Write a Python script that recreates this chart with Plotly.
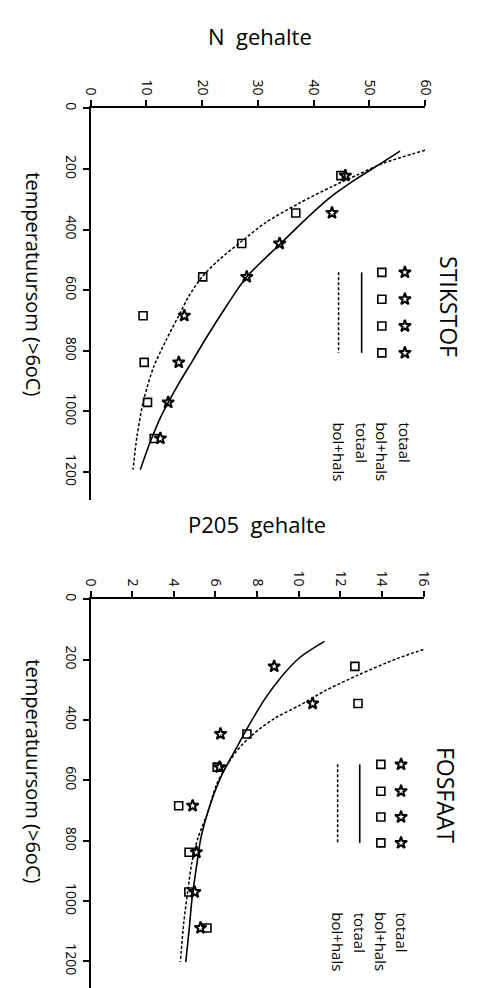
import plotly.graph_objects as go

W, H = 486, 988
FONT = "Open Sans, Roboto, sans-serif"

# Temperature sum (degree-days above 6 oC) at each sampling
temp = [222, 345, 446, 556, 684, 838, 970, 1089]

# Nitrogen content
n_totaal = [45.7, 43.3, 33.9, 28.0, 16.8, 15.8, 13.9, 12.5]
n_bolhals = [44.9, 36.8, 27.1, 20.1, 9.4, 9.6, 10.2, 11.4]

# Fitted nitrogen curves
n_fit_temp_totaal = [141, 187, 236, 296, 362, 449, 558, 657, 755, 832, 908, 1017, 1105, 1192]
n_fit_totaal = [55.5, 51.6, 47.4, 42.8, 38.8, 33.9, 27.9, 24.2, 20.8, 18.3, 15.8, 12.6, 10.6, 8.9]
n_fit_temp_bolhals = [138, 181, 220, 258, 313, 378, 440, 500, 558, 620, 684, 766, 853, 963, 1083, 1192]
n_fit_bolhals = [60.0, 52.5, 47.8, 43.3, 37.4, 31.3, 27.0, 23.0, 19.9, 17.6, 15.8, 13.5, 11.3, 9.5, 8.3, 7.6]

# Phosphate (P2O5) content
p_totaal = [8.82, 10.67, 6.24, 6.2, 4.9, 5.08, 5.0, 5.28]
p_bolhals = [12.7, 12.85, 7.51, 6.08, 4.23, 4.73, 4.72, 5.59]

# Fitted phosphate curves
p_fit_temp_totaal = [139, 191, 257, 328, 416, 493, 581, 680, 790, 889, 987, 1097, 1202]
p_fit_totaal = [11.24, 10.08, 9.16, 8.39, 7.62, 7.0, 6.31, 5.75, 5.3, 5.08, 4.88, 4.73, 4.57]
p_fit_temp_bolhals = [166, 197, 251, 301, 350, 394, 449, 504, 559, 614, 713, 790, 877, 965, 1075, 1202]
p_fit_bolhals = [16.0, 14.7, 12.85, 11.32, 10.08, 8.85, 7.77, 7.0, 6.47, 6.05, 5.59, 5.16, 4.85, 4.67, 4.47, 4.31]

n_ticks = [0, 10, 20, 30, 40, 50, 60]
p_ticks = [0, 2, 4, 6, 8, 10, 12, 14, 16]
t_ticks = [0, 200, 400, 600, 800, 1000, 1200]

legend_labels = ["totaal", "bol+hals", "totaal", "bol+hals"]


def fx(px):
    return px / W


def fy(py):
    return 1 - py / H


fig = go.Figure()

star = dict(symbol="star-open", size=9, color="black", line=dict(width=2, color="black"))
square = dict(symbol="square-open", size=8, color="black", line=dict(width=1.6, color="black"))
solid = dict(color="black", width=1.6, shape="spline", smoothing=0.8)
dotted = dict(color="black", width=1.5, dash="3px,2px", shape="spline", smoothing=0.8)

panels = [
    ("x", "y", n_totaal, n_bolhals, n_fit_temp_totaal, n_fit_totaal, n_fit_temp_bolhals, n_fit_bolhals),
    ("x2", "y2", p_totaal, p_bolhals, p_fit_temp_totaal, p_fit_totaal, p_fit_temp_bolhals, p_fit_bolhals),
]
for xa, ya, tot, bh, ftt, ft, ftb, fb in panels:
    fig.add_trace(go.Scatter(x=ft, y=ftt, mode="lines", line=solid, xaxis=xa, yaxis=ya, showlegend=False, hoverinfo="skip"))
    fig.add_trace(go.Scatter(x=fb, y=ftb, mode="lines", line=dotted, xaxis=xa, yaxis=ya, showlegend=False, hoverinfo="skip"))
    fig.add_trace(go.Scatter(x=bh, y=temp, mode="markers", marker=square, xaxis=xa, yaxis=ya, showlegend=False))
    fig.add_trace(go.Scatter(x=tot, y=temp, mode="markers", marker=star, xaxis=xa, yaxis=ya, showlegend=False))

# Hand-drawn key on a full-page overlay axis (pixel units)
keys = [
    # (star x, square x, solid x, dotted x, row ys, label start y, title, title x, title y)
    (412, 388, 367, 343, [268, 295, 322, 349], 417, "STIKSTOF", 458, 302),
    (408, 387, 365, 342, [763, 790, 816, 842], 910, "FOSFAAT", 455, 794),
]
for sx, qx, lx, dx, rows, ly, title, tx, ty in keys:
    fig.add_trace(go.Scatter(x=[sx] * 4, y=rows, mode="markers", marker=star, xaxis="x3", yaxis="y3",
                             showlegend=False, hoverinfo="skip"))
    fig.add_trace(go.Scatter(x=[qx] * 4, y=rows, mode="markers", marker=square, xaxis="x3", yaxis="y3",
                             showlegend=False, hoverinfo="skip"))
    fig.add_shape(type="line", xref="x3", yref="y3", x0=lx, x1=lx, y0=rows[0], y1=rows[-1],
                  line=dict(color="black", width=1.6))
    fig.add_shape(type="line", xref="x3", yref="y3", x0=dx, x1=dx, y0=rows[0], y1=rows[-1],
                  line=dict(color="black", width=1.5, dash="3px,2px"))
    for lab, cx in zip(legend_labels, [sx, qx, lx, dx]):
        fig.add_annotation(x=fx(cx), y=fy(ly), xref="paper", yref="paper", text=lab, textangle=90,
                           showarrow=False, xanchor="center", yanchor="top",
                           font=dict(family=FONT, size=15, color="black"))
    fig.add_annotation(x=fx(tx), y=fy(ty), xref="paper", yref="paper", text=title, textangle=90,
                       showarrow=False, xanchor="center", yanchor="middle",
                       font=dict(family=FONT, size=23, color="black"))

# Axis titles
titles = [
    ("N&nbsp;&nbsp;gehalte", 261, 30, 0, 22),
    ("P205&nbsp;&nbsp;gehalte", 258, 521, 0, 22),
    ("temperatuursom (&gt;6oC)", 26, 280, 90, 20),
    ("temperatuursom (&gt;6oC)", 26, 770, 90, 20),
]
for txt, tx, ty, ang, sz in titles:
    fig.add_annotation(x=fx(tx), y=fy(ty), xref="paper", yref="paper", text=txt, textangle=ang,
                       showarrow=False, xanchor="center", yanchor="middle",
                       font=dict(family=FONT, size=sz, color="black"))

val_axis = dict(side="top", showgrid=False, zeroline=False, showline=True, linecolor="black", linewidth=2,
                ticks="outside", ticklen=6, tickwidth=1.5, tickcolor="black", tickangle=90,
                tickfont=dict(family=FONT, size=14, color="black"))
t_axis = dict(autorange=False, showgrid=False, zeroline=False, showline=True, linecolor="black", linewidth=2,
              ticks="outside", ticklen=6, tickwidth=1.5, tickcolor="black", tickangle=90,
              tickvals=t_ticks, tickfont=dict(family=FONT, size=14, color="black"))

fig.update_layout(
    width=W, height=H, margin=dict(l=0, r=0, t=0, b=0),
    paper_bgcolor="white", plot_bgcolor="rgba(0,0,0,0)",
    xaxis=dict(val_axis, domain=[fx(85), fx(433)], range=[0, 60], tickvals=n_ticks, anchor="y"),
    yaxis=dict(t_axis, domain=[fy(497), fy(103)], range=[1292, 0], anchor="x"),
    xaxis2=dict(val_axis, domain=[fx(85), fx(431.4)], range=[0, 16], tickvals=p_ticks, anchor="y2"),
    yaxis2=dict(t_axis, domain=[fy(988), fy(597)], range=[1288, 0], anchor="x2"),
    xaxis3=dict(domain=[0, 1], range=[0, W], visible=False, anchor="y3", fixedrange=True),
    yaxis3=dict(domain=[0, 1], range=[H, 0], visible=False, anchor="x3", fixedrange=True),
)

fig.write_html("out.html")
